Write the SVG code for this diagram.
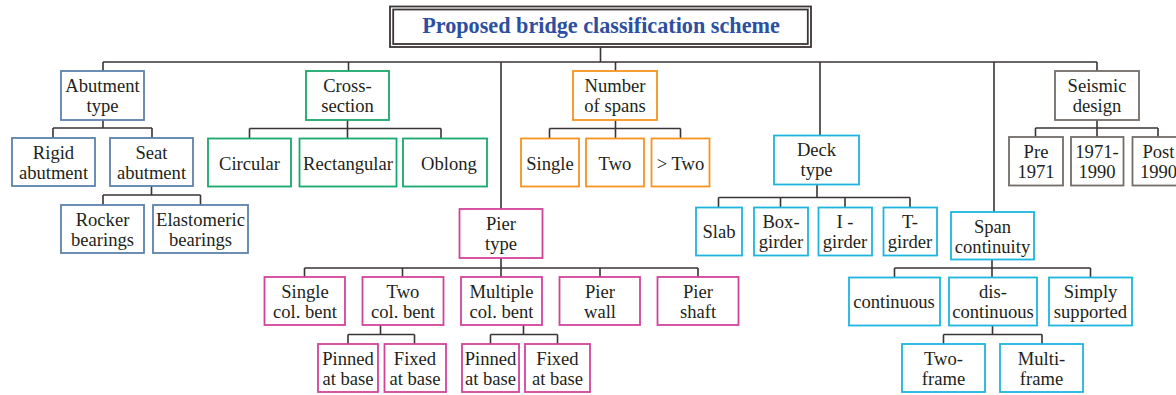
<svg xmlns="http://www.w3.org/2000/svg" width="1176" height="395" viewBox="0 0 1176 395">
<style>
text{font-family:"Liberation Serif","Times New Roman",serif;font-size:18.6px;fill:#231f20;text-anchor:middle}
.title{font-weight:bold;font-size:22.2px;fill:#2d4f9f}
rect{fill:#fff;stroke-width:1.8}
.ab rect{stroke:#5d82ac}
.cs rect{stroke:#19a86b}
.ns rect{stroke:#f7931e}
.pt rect{stroke:#d2439b}
.dk rect{stroke:#1cb5e0}
.sd rect{stroke:#736d68}
#connectors path{fill:none;stroke:#3b3434;stroke-width:1.6}
</style>
<rect width="1176" height="395" fill="#fff" stroke="none"/>
<g id="connectors">
<path d="M600.5,47V62M103,62H1097M103,62V71M348.5,62V71M501,62V209M615.5,62V71M820,62V135.5M994,62V212M1097,62V71"/>
<path d="M103,120V128M53,128H152M53,128V138M152,128V138"/>
<path d="M151.5,186V195M103,195H200.5M103,195V205M200.5,195V205"/>
<path d="M347.5,120V128.5M249.5,128.5H441M249.5,128.5V138.5M347.5,128.5V138.5M441,128.5V138.5"/>
<path d="M615.5,120V128.5M549.5,128.5H680.5M549.5,128.5V138.5M615.5,128.5V138.5M680.5,128.5V138.5"/>
<path d="M817,184.5V197.5M718.5,197.5H910M718.5,197.5V207.5M780.5,197.5V207.5M845,197.5V207.5M910,197.5V207.5"/>
<path d="M992,259.5V268M894.5,268H1090.5M894.5,268V277.5M992,268V277.5M1090.5,268V277.5"/>
<path d="M992.5,325.5V334.5M943.5,334.5H1042M943.5,334.5V344M1042,334.5V344"/>
<path d="M1097,120V128M1035.5,128H1158M1035.5,128V137M1097,128V137M1158,128V137"/>
<path d="M501,258V268M304.5,268H698M304.5,268V277M402.5,268V277M501,268V277M600,268V277M698,268V277"/>
<path d="M380.5,325V334.5M348,334.5H414.5M348,334.5V344M414.5,334.5V344"/>
<path d="M523.5,325V334.5M490.5,334.5H557.5M490.5,334.5V344M557.5,334.5V344"/>
</g>
<g id="title">
<rect x="390" y="6.5" width="421" height="40.5" fill="#fff" stroke="#3b3434" stroke-width="1.6"/>
<rect x="393.2" y="9.5" width="414.6" height="34.5" fill="none" stroke="#3b3434" stroke-width="1.4"/>
<text class="title" x="601" y="32.5">Proposed bridge classification scheme</text>
</g>
<g id="abutment-type" class="ab"><rect x="61" y="71" width="83" height="49"/><text x="102.5" y="91.5">Abutment</text><text x="102.5" y="111.5">type</text></g>
<g id="rigid-abutment" class="ab"><rect x="12" y="138" width="83" height="48"/><text x="53.5" y="158.5">Rigid</text><text x="53.5" y="178.5">abutment</text></g>
<g id="seat-abutment" class="ab"><rect x="110" y="138" width="83" height="48"/><text x="151.5" y="158.5">Seat</text><text x="151.5" y="178.5">abutment</text></g>
<g id="rocker-bearings" class="ab"><rect x="61" y="205" width="83" height="48"/><text x="102.5" y="225.5">Rocker</text><text x="102.5" y="245.5">bearings</text></g>
<g id="elastomeric-bearings" class="ab"><rect x="153" y="205" width="95" height="48"/><text x="200.5" y="225.5">Elastomeric</text><text x="200.5" y="245.5">bearings</text></g>
<g id="cross-section" class="cs"><rect x="306" y="71" width="83" height="49"/><text x="347.5" y="91.5">Cross-</text><text x="347.5" y="111.5">section</text></g>
<g id="circular" class="cs"><rect x="208" y="138.5" width="83" height="48"/><text x="249.5" y="169.5">Circular</text></g>
<g id="rectangular" class="cs"><rect x="299.5" y="138.5" width="97" height="48"/><text x="348" y="169.5">Rectangular</text></g>
<g id="oblong" class="cs"><rect x="403" y="138.5" width="84" height="48"/><text x="449" y="169.5">Oblong</text></g>
<g id="number-of-spans" class="ns"><rect x="573" y="71" width="84" height="49"/><text x="615" y="91.5">Number</text><text x="615" y="111.5">of spans</text></g>
<g id="single" class="ns"><rect x="521" y="138.5" width="58" height="48"/><text x="550" y="169.5">Single</text></g>
<g id="two" class="ns"><rect x="586" y="138.5" width="58" height="48"/><text x="615" y="169.5">Two</text></g>
<g id="more-than-two" class="ns"><rect x="651.5" y="138.5" width="58" height="48"/><text x="680.5" y="169.5">&gt; Two</text></g>
<g id="deck-type" class="dk"><rect x="774" y="135.5" width="85" height="49"/><text x="816.5" y="156">Deck</text><text x="816.5" y="176">type</text></g>
<g id="slab" class="dk"><rect x="696" y="207.5" width="46" height="48"/><text x="719" y="238">Slab</text></g>
<g id="box-girder" class="dk"><rect x="754" y="207.5" width="54" height="48"/><text x="781" y="228">Box-</text><text x="781" y="248">girder</text></g>
<g id="i-girder" class="dk"><rect x="818.5" y="207.5" width="53.5" height="48"/><text x="845" y="228">I -</text><text x="845" y="248">girder</text></g>
<g id="t-girder" class="dk"><rect x="883.5" y="207.5" width="53.5" height="48"/><text x="910" y="228">T-</text><text x="910" y="248">girder</text></g>
<g id="span-continuity" class="dk"><rect x="951" y="212" width="83" height="47.5"/><text x="992.5" y="232.5">Span</text><text x="992.5" y="252.5">continuity</text></g>
<g id="continuous" class="dk"><rect x="849" y="277.5" width="91" height="48"/><text x="894" y="308">continuous</text></g>
<g id="dis-continuous" class="dk"><rect x="949" y="277.5" width="88" height="48"/><text x="993" y="298">dis-</text><text x="993" y="318">continuous</text></g>
<g id="simply-supported" class="dk"><rect x="1049" y="277.5" width="83" height="48"/><text x="1090.5" y="298">Simply</text><text x="1090.5" y="318">supported</text></g>
<g id="two-frame" class="dk"><rect x="902" y="344" width="83" height="48"/><text x="943.5" y="364.5">Two-</text><text x="943.5" y="384.5">frame</text></g>
<g id="multi-frame" class="dk"><rect x="1000" y="344" width="83" height="48"/><text x="1041.5" y="364.5">Multi-</text><text x="1041.5" y="384.5">frame</text></g>
<g id="seismic-design" class="sd"><rect x="1055" y="71" width="84" height="49"/><text x="1097" y="91.5">Seismic</text><text x="1097" y="111.5">design</text></g>
<g id="pre-1971" class="sd"><rect x="1009" y="137" width="54" height="48.5"/><text x="1036" y="157.5">Pre</text><text x="1036" y="177.5">1971</text></g>
<g id="y1971-1990" class="sd"><rect x="1071" y="137" width="52.5" height="48.5"/><text x="1097" y="157.5">1971-</text><text x="1097" y="177.5">1990</text></g>
<g id="post-1990" class="sd"><rect x="1132.5" y="137" width="52" height="48.5"/><text x="1158.5" y="157.5">Post</text><text x="1158.5" y="177.5">1990</text></g>
<g id="pier-type" class="pt"><rect x="459.5" y="209" width="83" height="49"/><text x="501" y="229.5">Pier</text><text x="501" y="249.5">type</text></g>
<g id="single-col-bent" class="pt"><rect x="264.5" y="277" width="80.5" height="48"/><text x="305" y="297.5">Single</text><text x="305" y="317.5">col. bent</text></g>
<g id="two-col-bent" class="pt"><rect x="362.5" y="277" width="81" height="48"/><text x="403" y="297.5">Two</text><text x="403" y="317.5">col. bent</text></g>
<g id="multiple-col-bent" class="pt"><rect x="461" y="277" width="81" height="48"/><text x="501.5" y="297.5">Multiple</text><text x="501.5" y="317.5">col. bent</text></g>
<g id="pier-wall" class="pt"><rect x="559.5" y="277" width="80.5" height="48"/><text x="600" y="297.5">Pier</text><text x="600" y="317.5">wall</text></g>
<g id="pier-shaft" class="pt"><rect x="657.5" y="277" width="81" height="48"/><text x="698" y="297.5">Pier</text><text x="698" y="317.5">shaft</text></g>
<g id="pinned-at-base-1" class="pt"><rect x="318" y="344" width="60" height="48"/><text x="348" y="364.5">Pinned</text><text x="348" y="384.5">at base</text></g>
<g id="fixed-at-base-1" class="pt"><rect x="384.5" y="344" width="61.5" height="48"/><text x="415" y="364.5">Fixed</text><text x="415" y="384.5">at base</text></g>
<g id="pinned-at-base-2" class="pt"><rect x="462" y="344" width="57" height="48"/><text x="490.5" y="364.5">Pinned</text><text x="490.5" y="384.5">at base</text></g>
<g id="fixed-at-base-2" class="pt"><rect x="525" y="344" width="65" height="48"/><text x="557.5" y="364.5">Fixed</text><text x="557.5" y="384.5">at base</text></g>
</svg>
